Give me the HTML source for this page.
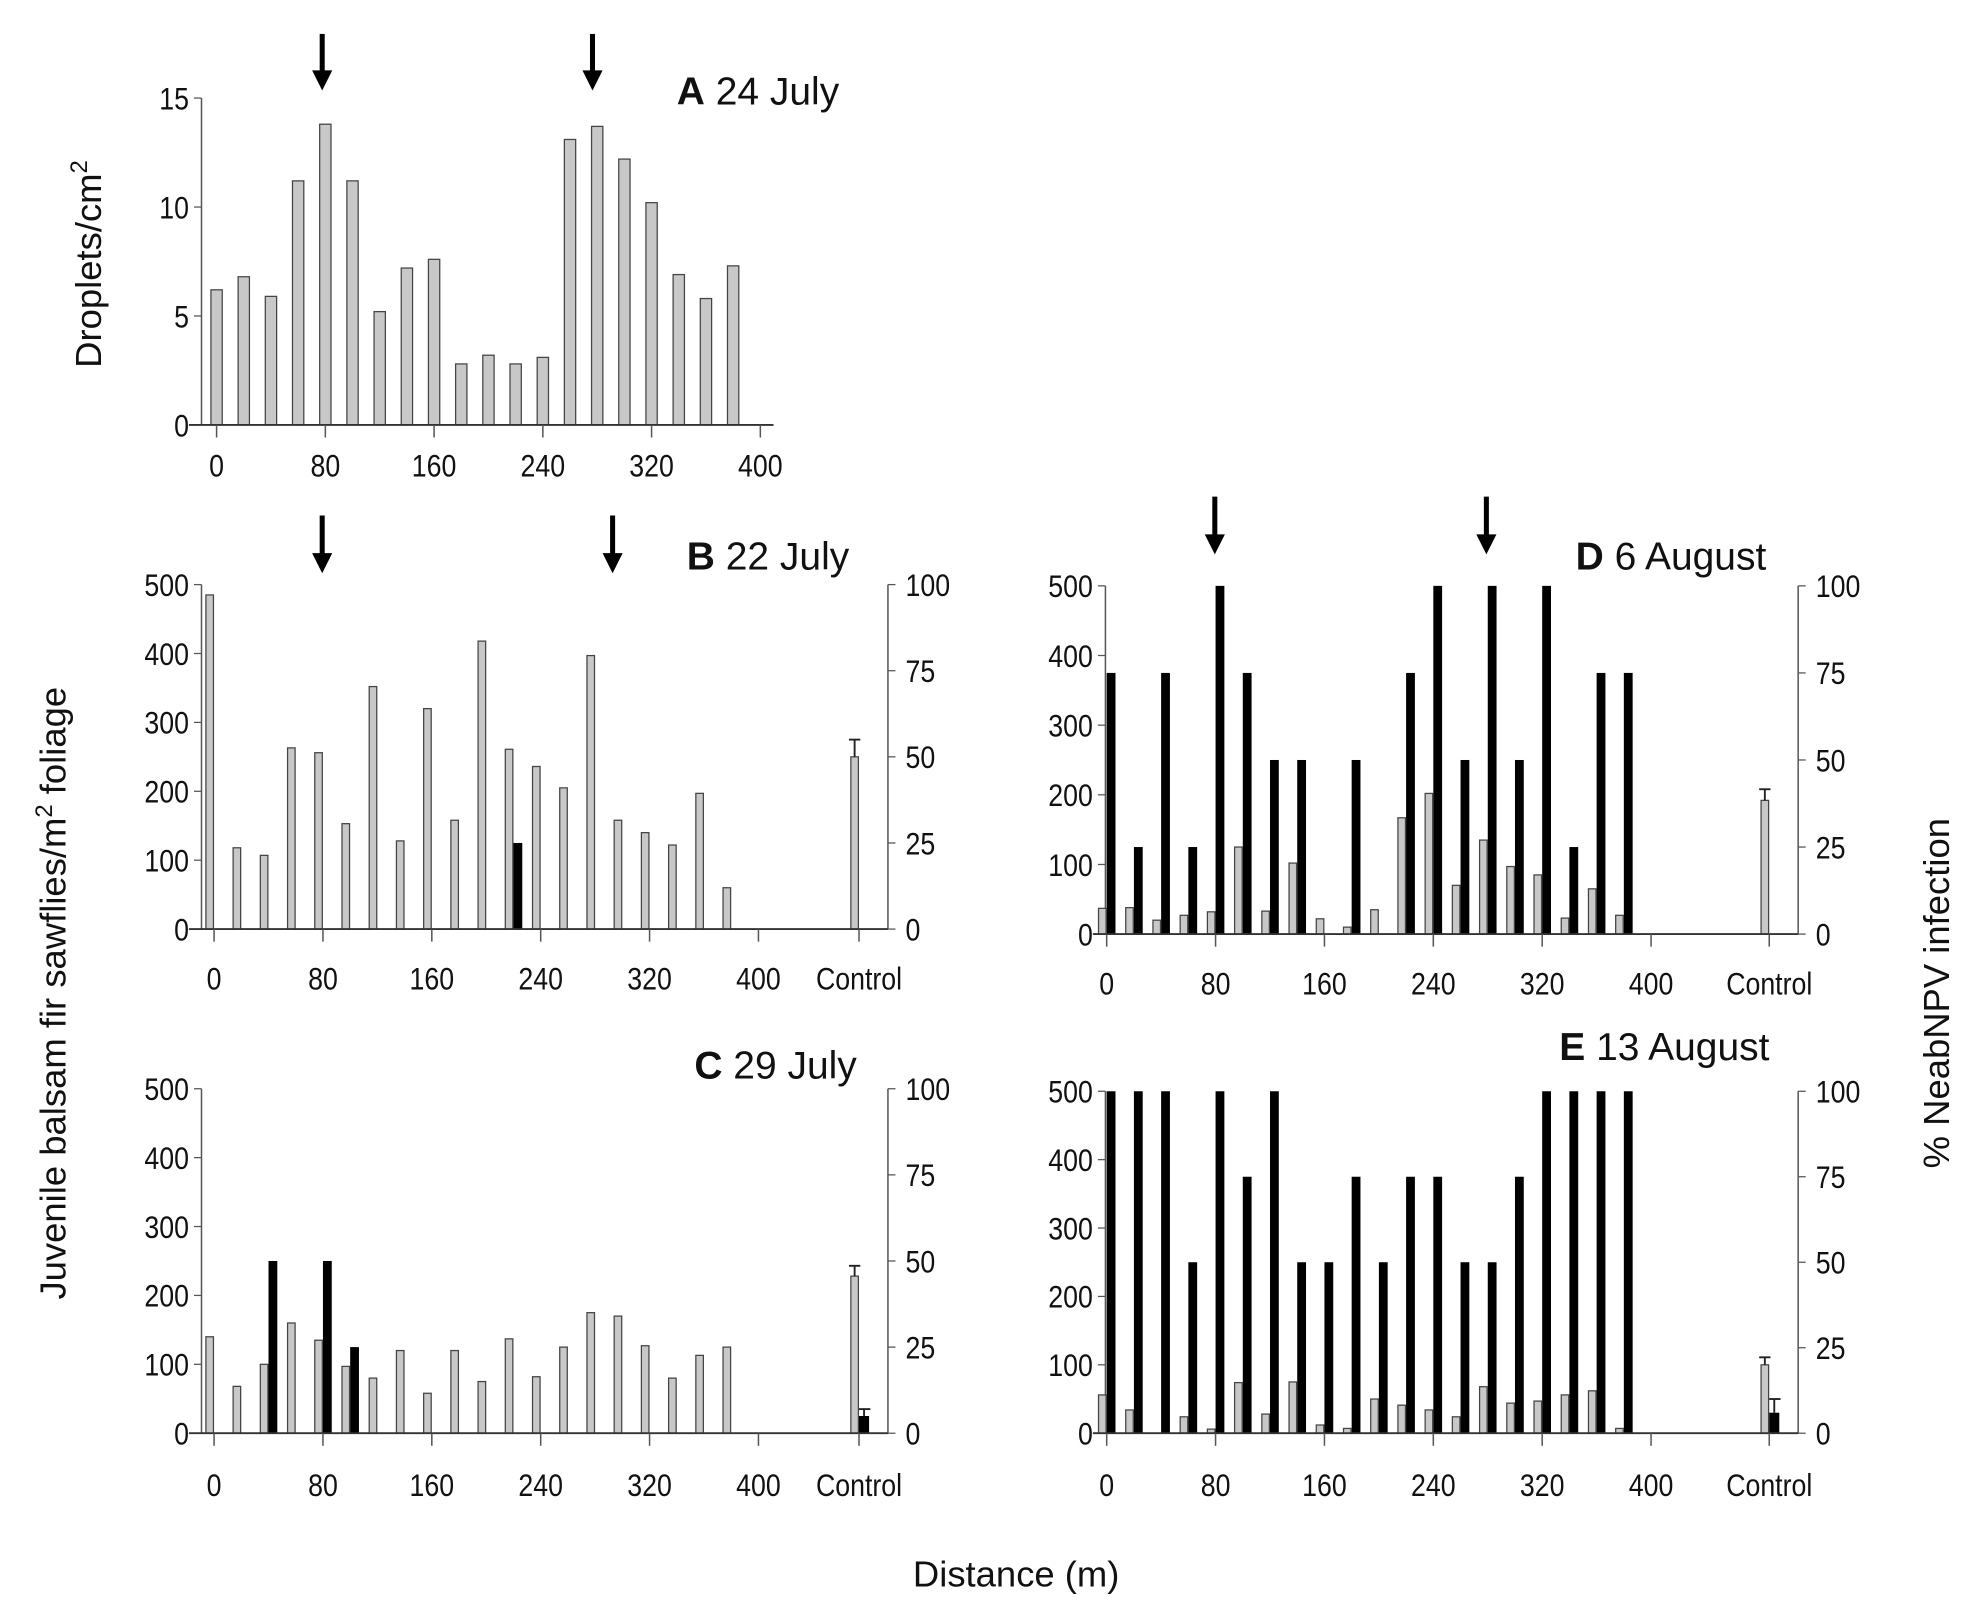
<!DOCTYPE html>
<html><head><meta charset="utf-8"><style>
html,body{margin:0;padding:0;background:#fff;}
svg{display:block;font-family:"Liberation Sans",sans-serif;}
.t{font-size:25px;fill:#111;}
.ttl{font-family:"Liberation Sans",sans-serif;font-size:31px;fill:#111;}
.lab{font-family:"Liberation Sans",sans-serif;font-size:29px;fill:#111;}
</style></head><body>
<svg id="fig" width="1972" height="1613" viewBox="0 0 1568 1283" xmlns="http://www.w3.org/2000/svg">
<text class="lab" transform="translate(80,210) rotate(-90)" text-anchor="middle">Droplets/cm<tspan font-size="19" dy="-11">2</tspan></text>
<text class="lab" transform="translate(52,790) rotate(-90)" text-anchor="middle">Juvenile balsam fir sawflies/m<tspan font-size="19" dy="-11">2</tspan><tspan dy="11"> foliage</tspan></text>
<text class="lab" transform="translate(1550,790) rotate(-90)" text-anchor="middle">% NeabNPV infection</text>
<text class="lab" x="808" y="1262" text-anchor="middle" font-size="35">Distance (m)</text>
</svg>
<script>
// Panel A droplets
const distances = [0,20,40,60,80,100,120,140,160,180,200,220,240,260,280,300,320,340,360,380];
const dropletsA = [6.2,6.8,5.9,11.2,13.8,11.2,5.2,7.2,7.6,2.8,3.2,2.8,3.1,13.1,13.7,12.2,10.2,6.9,5.8,7.3];
const dropletTicks = [0,5,10,15];
const distTicks = [0,80,160,240,320,400];
const densTicks = [0,100,200,300,400,500];
const pctTicks = [0,25,50,75,100];
// Panel B 22 July
const densB = [485,118,107,263,256,153,352,128,320,158,418,261,236,205,397,158,140,122,197,60];
const infB = [0,0,0,0,0,0,0,0,0,0,0,25,0,0,0,0,0,0,0,0];
const ctrlB = [250,275,0,0];
// Panel C 29 July
const densC = [140,68,100,160,135,97,80,120,58,120,75,137,82,125,175,170,127,80,113,125];
const infC = [0,0,50,0,50,25,0,0,0,0,0,0,0,0,0,0,0,0,0,0];
const ctrlC = [228,243,5,7];
// Panel D 6 August
const densD = [37,38,20,27,32,125,33,102,22,10,35,167,202,70,135,97,85,23,65,27];
const infD = [75,25,75,25,100,75,50,50,0,50,0,75,100,50,100,50,100,25,75,75];
const ctrlD = [192,208,0,0];
// Panel E 13 August
const densE = [56,34,0,24,6,74,28,75,12,7,50,41,34,24,68,44,47,56,62,7];
const infE = [100,100,100,50,100,75,100,50,50,75,50,75,75,50,50,75,100,100,100,100];
const ctrlE = [100,111,6,10];

const NS="http://www.w3.org/2000/svg";
const svg=document.getElementById('fig');
function el(tag,attrs,parent,txt){const e=document.createElementNS(NS,tag);for(const k in attrs)e.setAttribute(k,attrs[k]);if(txt!==undefined)e.textContent=txt;(parent||svg).appendChild(e);return e;}
function ntext(g,x,y,anchor,str){
  // condensed tick label
  const t=el('text',{class:'t',x:0,y:0,'text-anchor':anchor,transform:`translate(${x},${y}) scale(0.85,1)`},g,str);
  return t;
}
function arrow(g,x,y1,y2){
  const a=el('g',{},g);
  
  
  el('line',{x1:x,y1:y1,x2:x,y2:y2-12,stroke:'#000','stroke-width':4},a);
  el('polygon',{points:`${x-8},${y2-16} ${x+8},${y2-16} ${x},${y2}`,fill:'#000'},a);
}
function title(g,x,y,letter,text){
  const t=el('text',{class:'ttl',x:x,y:y},g);
  
  
  el('tspan',{'font-weight':'bold'},t,letter);
  el('tspan',{},t,'  '+text);
  t.setAttribute('xml:space','preserve');
}
function xaxis(g,x0,k,y0,xr,ctrlX,labY){
  for(const d of distTicks){const x=x0+d*k;el('line',{x1:x,y1:y0,x2:x,y2:y0+10,stroke:'#555','stroke-width':1.2},g);
    const t=ntext(g,x,labY,'middle',String(d));
    
    }
  if(ctrlX){el('line',{x1:ctrlX,y1:y0,x2:ctrlX,y2:y0+10,stroke:'#555','stroke-width':1.2},g);
    const t=ntext(g,ctrlX,labY,'middle','Control');
    
    }
}
function panelA(){
  const g=el('g',{});
  
  
  const ax=160,y0=338,yt=78,x0=172,k=86.5/80;
  const ys=v=>y0-(v/15)*(y0-yt);
  el('line',{x1:ax,y1:yt,x2:ax,y2:y0,stroke:'#555','stroke-width':1.2},g);
  for(const v of dropletTicks){el('line',{x1:ax-6,y1:ys(v),x2:ax,y2:ys(v),stroke:'#555'},g);
    const t=ntext(g,ax-10,ys(v)+9,'end',String(v));
    
    }
  distances.forEach((d,i)=>{const x=x0+d*k;const r=el('rect',{x:x-4.5,y:ys(dropletsA[i]),width:9,height:y0-ys(dropletsA[i]),fill:'#c8c8c8',stroke:'#444','stroke-width':1},g);
    
    });
  el('line',{x1:150,y1:y0,x2:615,y2:y0,stroke:'#333','stroke-width':1.5},g);
  xaxis(g,x0,k,y0,615,null,379);
  arrow(g,256,27,72);arrow(g,471,27,72);
  title(g,538,83,'A','24 July');
}
function panel(name,ax,rx,y0,yt,dens,inf,ctrl,labY,tx,ty,letter,text,arrows,ay){
  const g=el('g',{});
  
  
  const x0=ax+(name==='panel-b'||name==='panel-c'?10:1),k=86.6/80,ctrlX=rx-23;
  const ys=v=>y0-(v/500)*(y0-yt);
  const yp=v=>y0-(v/100)*(y0-yt);
  el('line',{x1:ax,y1:yt,x2:ax,y2:y0,stroke:'#555','stroke-width':1.2},g);
  el('line',{x1:rx,y1:yt,x2:rx,y2:y0,stroke:'#555','stroke-width':1.2},g);
  for(const v of densTicks){el('line',{x1:ax-6,y1:ys(v),x2:ax,y2:ys(v),stroke:'#555'},g);
    const t=ntext(g,ax-10,ys(v)+9,'end',String(v));
    
    }
  for(const v of pctTicks){el('line',{x1:rx,y1:yp(v),x2:rx+6,y2:yp(v),stroke:'#555'},g);
    const t=ntext(g,rx+14,yp(v)+9,'start',String(v));
    
    }
  distances.forEach((d,i)=>{const x=x0+d*k;
    if(dens[i]>0){const r=el('rect',{x:x-6.5,y:ys(dens[i]),width:6,height:y0-ys(dens[i]),fill:'#c8c8c8',stroke:'#444','stroke-width':1},g);
      
      }
    if(inf[i]>0){const r=el('rect',{x:x,y:yp(inf[i]),width:7,height:y0-yp(inf[i]),fill:'#000'},g);
      
      }
  });
  const cx=ctrlX;
  const r=el('rect',{x:cx-6.5,y:ys(ctrl[0]),width:6,height:y0-ys(ctrl[0]),fill:'#c8c8c8',stroke:'#444','stroke-width':1},g);
  
  
  el('line',{x1:cx-3.5,y1:ys(ctrl[0]),x2:cx-3.5,y2:ys(ctrl[1]),stroke:'#222','stroke-width':1.5},g);
  el('line',{x1:cx-8,y1:ys(ctrl[1]),x2:cx+1,y2:ys(ctrl[1]),stroke:'#222','stroke-width':1.5},g);
  if(ctrl[2]>0){const b=el('rect',{x:cx,y:yp(ctrl[2]),width:8,height:y0-yp(ctrl[2]),fill:'#000'},g);
    
    
    el('line',{x1:cx+4,y1:yp(ctrl[2]),x2:cx+4,y2:yp(ctrl[3]),stroke:'#222','stroke-width':1.5},g);
    el('line',{x1:cx,y1:yp(ctrl[3]),x2:cx+9,y2:yp(ctrl[3]),stroke:'#222','stroke-width':1.5},g);}
  el('line',{x1:ax-10,y1:y0,x2:rx,y2:y0,stroke:'#333','stroke-width':1.5},g);
  xaxis(g,x0,k,y0,rx,ctrlX,labY);
  title(g,tx,ty,letter,text);
  if(arrows)arrows.forEach(x=>arrow(g,x,ay,ay+46));
}
panelA();
panel('panel-b',160,706,739,465,densB,infB,ctrlB,787,546,453,'B','22 July',[256,487],410);
panel('panel-c',160,706,1140,866,densC,infC,ctrlC,1190,552,858,'C','29 July',null,0);
panel('panel-d',879,1430,743,466,densD,infD,ctrlD,791,1253,453,'D','6 August',[966,1182],395);
panel('panel-e',879,1430,1140,868,densE,infE,ctrlE,1190,1240,843,'E','13 August',null,0);
</script>
</body></html>
